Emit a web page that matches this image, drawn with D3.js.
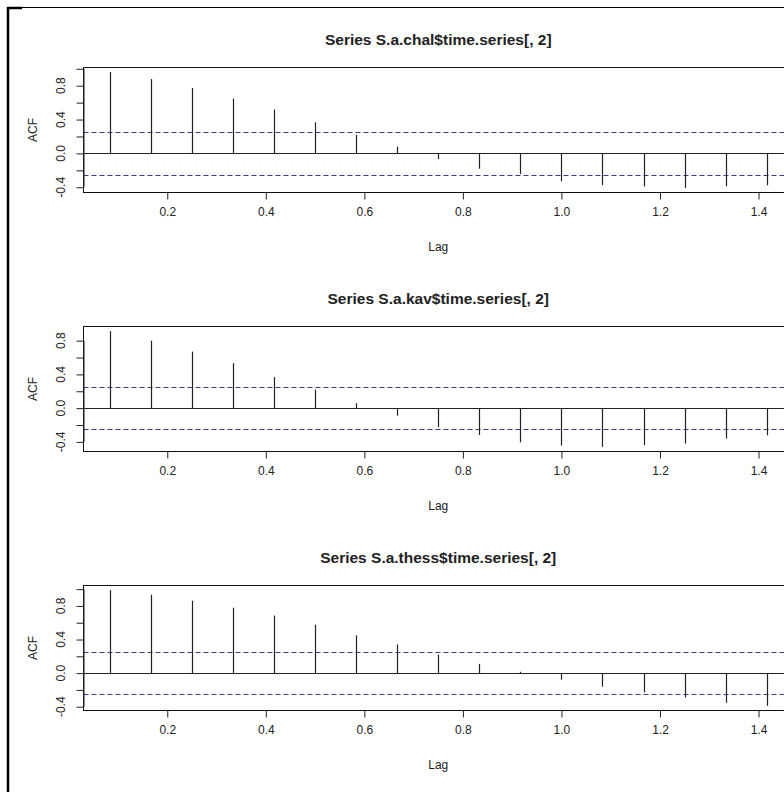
<!DOCTYPE html>
<html>
<head>
<meta charset="utf-8">
<script src="https://cdn.jsdelivr.net/npm/d3@7"></script>
<style>
  body { margin: 0; background: #fff; }
  text { font-family: "Liberation Sans", Arial, sans-serif; fill: #222; }
</style>
</head>
<body>
<script>
const width = 784;
const height = 792;

// lags in months (series has frequency 12)
const lagMonths = [1, 2, 3, 4, 5, 6, 7, 8, 9, 10, 11, 12, 13, 14, 15, 16, 17];
const frequency = 12;

const titles = [
  "Series S.a.chal$time.series[, 2]",
  "Series S.a.kav$time.series[, 2]",
  "Series S.a.thess$time.series[, 2]"
];

const chalAcf = [0.96, 0.878, 0.773, 0.648, 0.519, 0.367, 0.218, 0.081, -0.067,
  -0.18, -0.243, -0.33, -0.376, -0.39, -0.407, -0.388, -0.376];
const kavAcf = [0.913, 0.80, 0.67, 0.533, 0.368, 0.219, 0.059, -0.09, -0.224,
  -0.318, -0.405, -0.444, -0.459, -0.44, -0.42, -0.36, -0.322];
const thessAcf = [0.988, 0.933, 0.862, 0.779, 0.685, 0.575, 0.449, 0.342, 0.22,
  0.11, 0.016, -0.079, -0.162, -0.228, -0.29, -0.354, -0.39];

const ciBounds = [0.252, 0.253, 0.252];

const xTicks = [0.2, 0.4, 0.6, 0.8, 1.0, 1.2, 1.4];
const yTicks = [-0.4, -0.2, 0.0, 0.2, 0.4, 0.6, 0.8, 1.0];
const yLabels = [-0.4, 0.0, 0.4, 0.8];

const series = [chalAcf, kavAcf, thessAcf];

// R prints plain hyphen minus
const fmt = d => d3.format(".1f")(d).replace("\u2212", "-");

const svg = d3.select("body").append("svg")
    .attr("width", width)
    .attr("height", height);

// outer frame
svg.append("line").attr("x1", 8).attr("y1", 7).attr("x2", 8).attr("y2", height)
    .attr("stroke", "#000").attr("stroke-width", 2.5);
svg.append("line").attr("x1", 7).attr("y1", 7.5).attr("x2", width).attr("y2", 7.5)
    .attr("stroke", "#000").attr("stroke-width", 1);
svg.append("line").attr("x1", 7).attr("y1", 8).attr("x2", 22).attr("y2", 8)
    .attr("stroke", "#000").attr("stroke-width", 2.5);

const boxLeft = 83.5;
const boxRight = 793;
const boxHeight = 125;
const panelStep = 259;

// R style: data range extended by 4% on each side
function rRange(lo, hi) {
  const pad = (hi - lo) * 0.04;
  return [lo - pad, hi + pad];
}

const lags = lagMonths.map(m => m / frequency);
const x = d3.scaleLinear()
    .domain(rRange(d3.min(lags), d3.max(lags)))
    .range([boxLeft, boxRight]);

series.forEach((values, i) => {
  const top = 67.5 + panelStep * i;
  const bottom = top + boxHeight;
  const ci = ciBounds[i];
  const y = d3.scaleLinear()
      .domain(rRange(Math.min(d3.min(values), -ci), Math.max(d3.max(values), ci)))
      .range([bottom, top]);
  const dom = y.domain();

  const g = svg.append("g");

  g.append("rect")
      .attr("x", boxLeft).attr("y", top)
      .attr("width", boxRight - boxLeft).attr("height", boxHeight)
      .attr("fill", "none").attr("stroke", "#111").attr("stroke-width", 1);

  // zero line
  g.append("line")
      .attr("x1", boxLeft).attr("x2", boxRight)
      .attr("y1", Math.round(y(0)) + 0.5).attr("y2", Math.round(y(0)) + 0.5)
      .attr("stroke", "#222");

  // confidence bounds
  g.selectAll("line.ci")
      .data([ci, -ci])
      .enter().append("line")
      .attr("class", "ci")
      .attr("x1", boxLeft).attr("x2", boxRight)
      .attr("y1", d => Math.round(y(d)) + 0.5)
      .attr("y2", d => Math.round(y(d)) + 0.5)
      .attr("stroke", "#3a3a86")
      .attr("stroke-width", 1.2)
      .attr("stroke-dasharray", "5,3");

  // spikes
  g.selectAll("line.spike")
      .data(values)
      .enter().append("line")
      .attr("class", "spike")
      .attr("x1", (d, k) => Math.round(x(lags[k])) + 0.5)
      .attr("x2", (d, k) => Math.round(x(lags[k])) + 0.5)
      .attr("y1", Math.round(y(0)) + 0.5)
      .attr("y2", d => y(d))
      .attr("stroke", "#222")
      .attr("stroke-width", 1.2);

  // x axis
  const xAxis = g.append("g")
      .attr("transform", `translate(0,${bottom})`)
      .call(d3.axisBottom(x).tickValues(xTicks).tickSize(7).tickFormat(fmt));
  xAxis.select(".domain").remove();
  xAxis.selectAll("line").attr("stroke", "#222");
  xAxis.selectAll("text")
      .attr("y", 15)
      .attr("dy", "0.71em")
      .style("font-size", "12px")
      .style("font-family", "'Liberation Sans', Arial, sans-serif")
      .attr("fill", "#222");

  // y axis
  const yShown = yTicks.filter(t => t >= dom[0] && t <= dom[1]);
  const yAxis = g.append("g")
      .attr("transform", `translate(${boxLeft},0)`)
      .call(d3.axisLeft(y).tickValues(yShown).tickSize(7).tickFormat(""));
  yAxis.select(".domain")
      .attr("d", `M0.5,${y(yShown[0])}V${y(yShown[yShown.length - 1])}`)
      .attr("stroke", "#222");
  yAxis.selectAll("line").attr("stroke", "#222");

  g.selectAll("text.ylab")
      .data(yLabels)
      .enter().append("text")
      .attr("class", "ylab")
      .attr("transform", d => `translate(65,${y(d)}) rotate(-90)`)
      .attr("text-anchor", "middle")
      .style("font-size", "12px")
      .text(fmt);

  // labels
  const cx = (boxLeft + boxRight) / 2;
  g.append("text")
      .attr("x", cx).attr("y", top - 23)
      .attr("text-anchor", "middle")
      .style("font-size", "15.5px")
      .style("font-weight", "bold")
      .text(titles[i]);

  g.append("text")
      .attr("x", cx).attr("y", bottom + 58)
      .attr("text-anchor", "middle")
      .style("font-size", "12px")
      .text("Lag");

  g.append("text")
      .attr("transform", `translate(37,${(top + bottom) / 2}) rotate(-90)`)
      .attr("text-anchor", "middle")
      .style("font-size", "12px")
      .text("ACF");
});
</script>
</body>
</html>
